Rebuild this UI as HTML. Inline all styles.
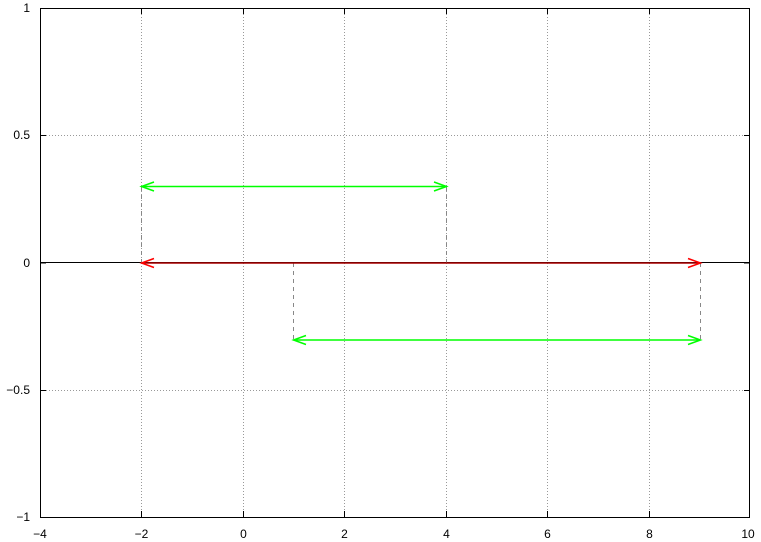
<!DOCTYPE html>
<html><head><style>body{margin:0;background:#fff}svg{display:block}text{font-family:"Liberation Sans",sans-serif;font-size:12px;fill:#000}</style></head>
<body>
<svg width="761" height="542" xmlns="http://www.w3.org/2000/svg">
<g stroke="#999" stroke-width="1" stroke-dasharray="1,2" fill="none">
<line x1="141.5" y1="8" x2="141.5" y2="517"/>
<line x1="243.5" y1="8" x2="243.5" y2="517"/>
<line x1="344.5" y1="8" x2="344.5" y2="517"/>
<line x1="446.5" y1="8" x2="446.5" y2="517"/>
<line x1="547.5" y1="8" x2="547.5" y2="517"/>
<line x1="649.5" y1="8" x2="649.5" y2="517"/>
<line x1="40" y1="135.5" x2="750" y2="135.5"/>
<line x1="40" y1="390.5" x2="750" y2="390.5"/>
</g>
<line x1="40" y1="262.5" x2="750" y2="262.5" stroke="#000" stroke-width="1"/>
<g stroke="#888" stroke-dasharray="4,4" stroke-width="1">
<line x1="141.5" y1="187" x2="141.5" y2="263"/>
<line x1="446.5" y1="187" x2="446.5" y2="263"/>
<line x1="293.5" y1="263" x2="293.5" y2="340"/>
<line x1="700.5" y1="263" x2="700.5" y2="340"/>
</g>
<g fill="none" stroke-width="1.5">
<g stroke="#00ff00">
<line x1="141.5" y1="186.5" x2="446.5" y2="186.5"/>
<path d="M154,182 L141.5,186.5 L154,191 M434,182 L446.5,186.5 L434,191"/>
<line x1="293.5" y1="340" x2="700.5" y2="340"/>
<path d="M306,335.5 L293.5,340 L306,344.5 M688,335.5 L700.5,340 L688,344.5"/>
</g>
<line x1="141.5" y1="263" x2="700.5" y2="263" stroke="#aa0000"/>
<path stroke="#ff0000" d="M154,258.5 L141.5,263 L154,267.5 M688,258.5 L700.5,263 L688,267.5"/>
</g>
<g stroke="#000" stroke-width="1">
<rect x="40.5" y="8.5" width="709" height="509" fill="none"/>
<path d="M40,135.5h6M750,135.5h-6M40,263h6M750,263h-6M40,390.5h6M750,390.5h-6M141.5,517v-6M141.5,8v6M243.5,517v-6M243.5,8v6M344.5,517v-6M344.5,8v6M446.5,517v-6M446.5,8v6M547.5,517v-6M547.5,8v6M649.5,517v-6M649.5,8v6"/>
</g>
<g text-anchor="end">
<text x="30" y="12">1</text>
<text x="30" y="139">0.5</text>
<text x="30" y="267">0</text>
<text x="30" y="394">−0.5</text>
<text x="30" y="521">−1</text>
</g>
<g text-anchor="middle">
<text x="40" y="538">−4</text>
<text x="141.5" y="538">−2</text>
<text x="243.5" y="538">0</text>
<text x="344.5" y="538">2</text>
<text x="446.5" y="538">4</text>
<text x="547.5" y="538">6</text>
<text x="649.5" y="538">8</text>
<text x="748" y="538">10</text>
</g>
</svg>
</body></html>
